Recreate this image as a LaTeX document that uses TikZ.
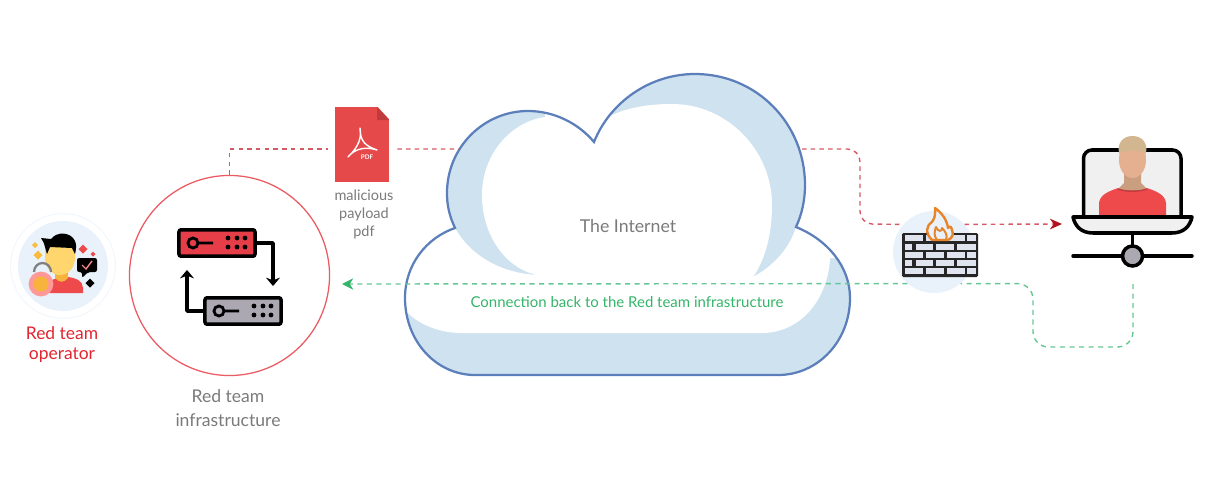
\documentclass[tikz,border=0pt]{standalone}
\usepackage{fontspec}
\setmainfont{Lato}
\usetikzlibrary{calc,arrows.meta}
\definecolor{redline}{HTML}{D65A66}
\definecolor{redtip}{HTML}{B5121F}
\definecolor{greenline}{HTML}{66C795}
\definecolor{greentip}{HTML}{35B56A}
\definecolor{cloudblue}{HTML}{CFE2EF}
\definecolor{cloudedge}{HTML}{5C7FBB}
\definecolor{pale}{HTML}{E9F1FA}
\definecolor{labelgray}{HTML}{7A7A7A}
\definecolor{labelred}{HTML}{E3242F}
\definecolor{srvred}{HTML}{E63E48}
\definecolor{srvgray}{HTML}{ABA8B2}
\definecolor{docred}{HTML}{E5494A}
\definecolor{docfold}{HTML}{BE3B3E}
\definecolor{shirt}{HTML}{EE4A4C}
\definecolor{facey}{HTML}{FFD56E}
\definecolor{necky}{HTML}{F8B33C}
\definecolor{sparky}{HTML}{FBBC3C}
\definecolor{flame}{HTML}{E8842A}
\definecolor{brick}{HTML}{E0E4EE}
\definecolor{skin}{HTML}{E5B08F}
\definecolor{skindark}{HTML}{C99F80}
\definecolor{hair}{HTML}{D2B68F}
\definecolor{screen}{HTML}{F0F0F0}
\newcommand{\cloudpath}{(455,228) .. controls (449,215) and (447,205) .. (447,193)
	.. controls (447,147) and (484,111) .. (528,111)
	.. controls (555,111) and (579,124) .. (594,142)
	.. controls (610,102) and (650,74) .. (695,74)
	.. controls (757,74) and (805,124) .. (805,185)
	.. controls (805,200) and (802,214) .. (796,227)
	.. controls (828,240) and (850,267) .. (850,298)
	.. controls (850,341) and (818,375) .. (778,375)
	-- (475,375)
	.. controls (436,375) and (405,341) .. (405,298)
	.. controls (405,265) and (426,238) .. (455,228) -- cycle}
\newcommand{\spark}[4]{\fill[#4] (#1-#3,#2) -- (#1,#2-#3) -- (#1+#3,#2) -- (#1,#2+#3) -- cycle;}
\tikzset{
	reddash/.style={redline,line width=1pt,dash pattern=on 3.2pt off 3pt},
	greendash/.style={greenline,line width=1pt,dash pattern=on 3.6pt off 3.2pt},
	server/.style={draw=black,line width=2.5pt,rounded corners=1.5pt,minimum width=1.9cm,minimum height=.66cm,inner sep=0},
	blackline/.style={line width=2.5pt,line cap=round,line join=round},
	caption/.style={labelgray,align=center,inner sep=0}
}
\begin{document}
\begin{tikzpicture}[x=0.025cm,y=-0.025cm]
	\useasboundingbox (0,0) rectangle (1232,493);
	%CLOUD
	\fill[cloudblue] \cloudpath;
	\begin{scope}
		\clip \cloudpath;
		\fill[white] (537,275) .. controls (505,268) and (482,235) .. (482,195)
			.. controls (482,155) and (510,122) .. (545,117) -- (545,100) -- (600,100) -- (612,115)
			.. controls (630,107) and (650,104) .. (672,104)
			.. controls (727,104) and (772,150) .. (772,205)
			.. controls (772,235) and (765,260) .. (753,277)
			.. controls (775,265) and (790,247) .. (796,227) -- (870,227) -- (870,258) -- (830,258)
			.. controls (828,300) and (800,333) .. (762,333) -- (462,333)
			.. controls (440,333) and (420,325) .. (408,313) -- (390,313) -- (390,228) -- (455,228)
			.. controls (470,255) and (500,273) .. (537,275) -- cycle;
	\end{scope}
	\draw[cloudedge,line width=1.6pt,line join=miter] \cloudpath;
	\coordinate (cloudW) at (459,149);
	\coordinate (cloudE) at (802,149);
	\node[labelgray,inner sep=0,font=\fontsize{12.6}{15}\selectfont] (internet) at (628,226) {The Internet};
	\node[greentip,inner sep=0,font=\fontsize{10.65}{13}\selectfont] (backlabel) at (627,302) {Connection back to the Red team infrastructure};
	%OPERATOR
	\node[circle,draw=pale!60,line width=.8pt,minimum size=2.62cm,inner sep=0] (operatorring) at (63,266) {};
	\node[circle,fill=pale,minimum size=2.25cm,inner sep=0] (operator) at (63,266) {};
	\fill[shirt] (50,293) -- (50,284) .. controls (50,280) and (54,279) .. (57,278) -- (68,277) .. controls (76,278) and (83,281) .. (83,288) -- (83,293) -- cycle;
	\fill[necky] (55,272) -- (68,272) -- (68,278) .. controls (64,283) and (59,283) .. (55,278) -- cycle;
	\fill[facey] (45,246) -- (75,246) -- (75,258) .. controls (75,268) and (68,275) .. (60,275) .. controls (52,275) and (45,268) .. (45,258) -- cycle;
	\fill[black] (41,238) -- (51,239) .. controls (57,231) and (71,232) .. (75,241) .. controls (77,245) and (76,250) .. (75,254) -- (72,248) -- (50,247) -- (47,254) -- (45,247) .. controls (44,243) and (43,241) .. (41,238) -- cycle;
	\draw[black!50,line width=1.6pt] (34,272) arc (180:360:8.5 and 9);
	\node[circle,fill=red!40!white,minimum size=.62cm,inner sep=0] (coinrim) at (41,284) {};
	\node[circle,fill=necky,minimum size=.38cm,inner sep=0] (coin) at (41,284) {};
	\fill[black,rounded corners=1.5pt] (77,258) -- (97,258) -- (97,272) -- (88,272) -- (82,278) -- (82,272) -- (77,272) -- cycle;
	\draw[shirt!70!white,line width=1pt] (82,265) -- (86,269) -- (92,261);
	\spark{35}{245}{3}{sparky}
	\spark{38}{255}{4.5}{sparky}
	\spark{83}{249}{4.5}{shirt}
	\spark{93}{254}{2.5}{shirt}
	\spark{90}{283}{4.5}{black}
	\node[font=\fontsize{12.4}{14.2}\selectfont,text=labelred,align=center,inner sep=0] (operatorlabel) at (62,345) {Red team\\operator};
	%INFRASTRUCTURE
	\node[circle,draw=srvred!85!white,line width=.9pt,minimum size=5cm,inner sep=0] (infra) at (229.5,275.5) {};
	\node[server,fill=srvred] (redsrv) at (217,243) {};
	\node[server,fill=srvgray] (graysrv) at (243,311) {};
	\draw[blackline,-{Stealth[length=6pt,width=10pt]}] (redsrv.east) -| ($(graysrv.north)+(30,-10)$);
	\draw[blackline,-{Stealth[length=6pt,width=10pt]}] (graysrv.west) -| ($(redsrv.south)+(-30,12)$);
	\foreach \ox/\oy in {0/0,26/68}{
		\draw[line width=2pt] (193+\ox,243+\oy) circle (5) (198+\ox,243+\oy) -- (213+\ox,243+\oy);
		\foreach \dx in {228,237,245}
			\foreach \dy in {238,247}
				\fill (\dx+\ox,\dy+\oy) circle (2.4);
	}
	\node[caption,font=\fontsize{12.5}{17}\selectfont] (infralabel) at (228,408) {Red team\\infrastructure};
	%PDF
	\node[fill=docred,minimum width=1.35cm,minimum height=1.875cm,inner sep=0] (pdfdoc) at (362,144.5) {};
	\fill[white] (377,106) -- (390,106) -- (390,120) -- cycle;
	\fill[docfold] (377,107) -- (377,120) -- (389,120) -- cycle;
	\draw[white,line width=1pt,line join=round] (348,157) .. controls (353,152) and (363,142) .. (360,128) .. controls (360,142) and (366,146) .. (377,150) .. controls (368,147) and (356,147) .. (348,157) -- cycle;
	\node[white,font=\bfseries\fontsize{4.5}{5}\selectfont,inner sep=0] (pdftag) at (367,157) {PDF};
	\node[caption,font=\fontsize{10.3}{12.6}\selectfont] (pdflabel) at (364,214.5) {malicious\\payload\\pdf};
	%FIREWALL
	\node[circle,fill=pale,minimum size=2.05cm,inner sep=0] (fwall) at (934,252) {};
	\fill[black!85,rounded corners=1pt] (902,233) rectangle (978,277);
	\foreach \by in {235,252,268.3}
		\foreach \ba/\bb in {905/923.3,925.7/944,946.7/965,967.3/975.7}
			\fill[brick] (\ba,\by) rectangle (\bb,\by+5.5);
	\foreach \by in {244,260}
		\foreach \ba/\bb in {905/912.3,915.7/933.3,936/954.3,957.3/975.7}
			\fill[brick] (\ba,\by) rectangle (\bb,\by+5.5);
	\draw[flame,fill=pale,line width=1.7pt,line join=round] (932,240) .. controls (925,233) and (926,226) .. (932,222) .. controls (936,217) and (935,212) .. (935,208) .. controls (942,213) and (947,220) .. (948,228) .. controls (950,226) and (951,226) .. (952,230) .. controls (954,235) and (952,238) .. (948,240) -- cycle;
	\draw[flame,line width=1.4pt,line join=round] (937,240) .. controls (934,236) and (934,232) .. (936,227) .. controls (938,232) and (942,232) .. (942,228) .. controls (945,231) and (948,235) .. (946,240);
	%LAPTOP
	\draw[line width=2.5pt,fill=screen,rounded corners=6pt] (1083.5,217) -- (1083.5,150) -- (1181,150) -- (1181,217);
	\fill[shirt] (1099,215) -- (1099,203) .. controls (1100,194) and (1110,191) .. (1118,188) -- (1147,188) .. controls (1155,191) and (1165,194) .. (1166,203) -- (1166,215) -- cycle;
	\fill[skindark] (1124,165) -- (1141,165) -- (1141,183) -- (1147,189) .. controls (1138,191) and (1127,191) .. (1118,189) -- (1124,183) -- cycle;
	\draw[docfold,line width=1pt] (1118,189) .. controls (1127,192) and (1138,192) .. (1147,189);
	\fill[skin] (1120,145) -- (1145,145) -- (1146,160) .. controls (1146,170) and (1140,178) .. (1132.5,178) .. controls (1125,178) and (1119,170) .. (1119,160) -- cycle;
	\fill[hair] (1119,153) .. controls (1117,143) and (1123,136) .. (1132.5,136) .. controls (1142,136) and (1148,143) .. (1146,153) .. controls (1136,150) and (1129,150) .. (1119,153) -- cycle;
	\draw[line width=2.5pt,fill=screen,line join=round] (1073,217) -- (1192,217) .. controls (1190,226) and (1184,233) .. (1172,233) -- (1093,233) .. controls (1081,233) and (1075,226) .. (1073,217) -- cycle;
	\draw[blackline] (1073,256) -- (1192,256) (1132.5,233) -- (1132.5,245);
	\node[circle,draw=black,line width=2.5pt,fill=srvgray,minimum size=.5cm,inner sep=0] (hub) at (1132.5,256) {};
	\coordinate (netdown) at (1133,284);
	\coordinate (backtip) at (342,284);
	\coordinate (laptopin) at (1062,224);
	%CONNECTORS
	\draw[reddash] (infra.north) |- ($(pdfdoc.west)+(-7,4.5)$);
	\draw[reddash] ($(pdfdoc.east)+(8,4.5)$) -- (cloudW);
	\draw[reddash,rounded corners=9pt] (cloudE) -| (860,224) -- (fwall.138);
	\draw[reddash,-{Stealth[length=8.5pt,width=7.5pt,inset=2.5pt,color=redtip]}] (fwall.42) -- (laptopin);
	\draw[greendash,rounded corners=11pt] (netdown) |- (1033,347) |- (fwall.-50);
	\draw[greendash,-{Stealth[length=8pt,width=8pt,inset=2.5pt,color=greentip]}] (fwall.230) -- (backtip);
\end{tikzpicture}
\end{document}
